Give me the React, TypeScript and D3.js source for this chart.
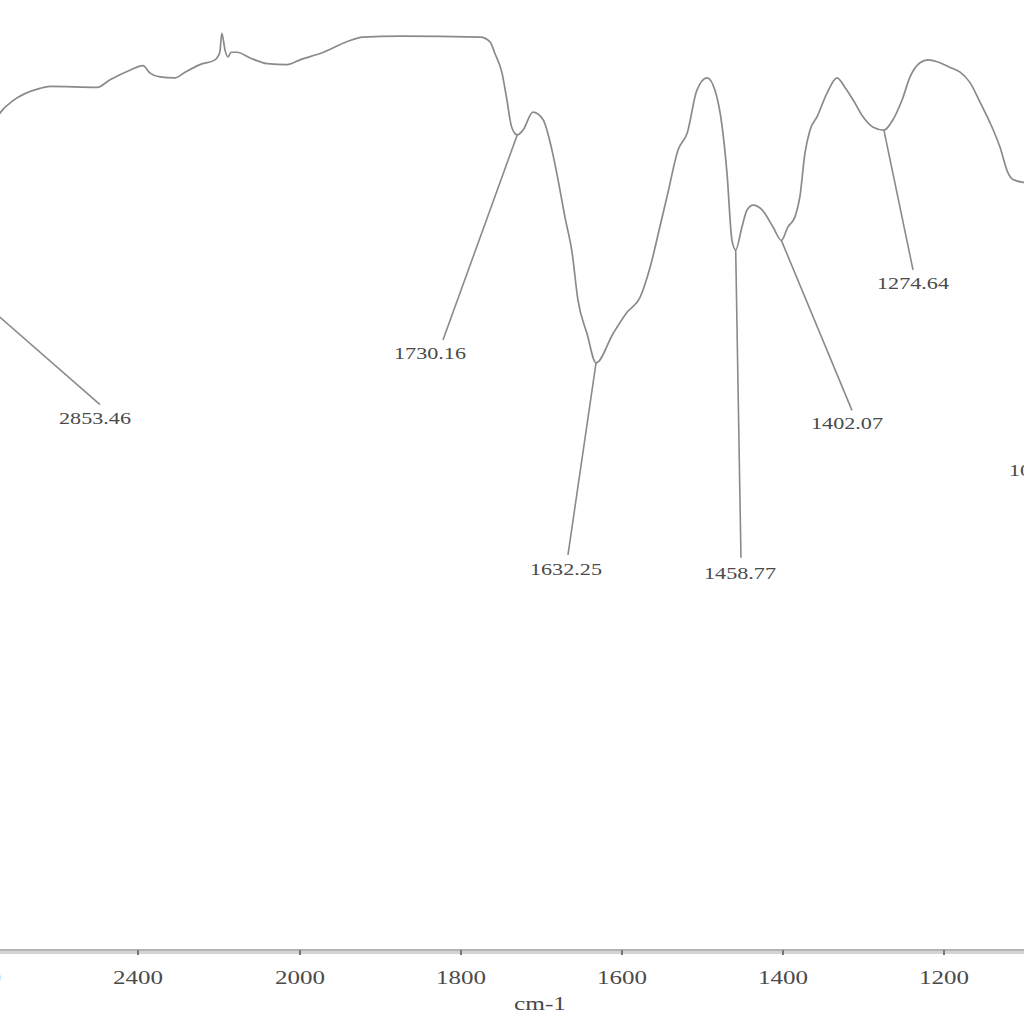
import React from "react";
import * as d3 from "d3";

// FTIR spectrum: wavenumber (cm-1) vs transmittance (%T, arbitrary units)
const wavenumbers = [
  2920, 2853.46, 2790, 2740.7, 2708.6, 2642, 2617, 2501, 2469, 2420, 2388, 2370, 2346, 2309,
  2284, 2247, 2210, 2198, 2193, 2185, 2178, 2170, 2156, 2123, 2081, 2032, 2000, 1971, 1942,
  1922, 1876, 1776, 1764, 1758, 1749, 1743, 1737, 1730.16, 1723, 1710.6, 1698, 1687, 1679.5,
  1671, 1662, 1654.7, 1643.5, 1632.25, 1611, 1594, 1577.6, 1565, 1553, 1543, 1530.4, 1519,
  1507, 1494.4, 1484.5, 1475.8, 1469.6, 1463.4, 1458.77, 1451, 1444.7, 1437, 1426, 1412.4,
  1402.07, 1394, 1385, 1379, 1372.7, 1366.5, 1357.8, 1345.3, 1332.9, 1323, 1313, 1300.6, 1288,
  1274.64, 1263.4, 1252, 1242.2, 1229.8, 1219.9, 1205, 1192.5, 1180, 1167.7, 1155, 1142.9,
  1130.4, 1120.5, 1114.3, 1100.6, 1090,
];
const transmittance = [
  73.7, 70.8, 83.2, 88.1, 89.4, 90.7, 90.9, 90.8, 91.6, 92.6, 93.1, 92.3, 91.9, 91.8,
  92.4, 93.2, 93.7, 94.5, 96.5, 94.7, 94.0, 94.5, 94.5, 93.9, 93.3, 93.2, 93.7, 94.5, 95.6,
  96.1, 96.2, 96.1, 95.6, 94.4, 92.3, 89.5, 86.6, 85.8, 86.3, 88.2, 87.4, 84.2, 81.1,
  77.2, 73.4, 68.4, 64.9, 61.8, 64.9, 67.1, 68.7, 71.9, 76.1, 79.7, 84.2, 86.0,
  90.5, 91.8, 90.5, 86.8, 81.8, 74.7, 73.7, 76.1, 77.9, 78.4, 77.9, 76.1,
  74.7, 76.1, 77.2, 79.3, 83.9, 86.3, 87.7, 90.2, 91.8, 90.8, 89.5, 87.7, 86.6,
  86.3, 87.4, 89.5, 91.9, 93.4, 93.7, 93.4, 92.9, 92.4, 91.3, 89.2, 87.1,
  84.5, 81.8, 81.1, 80.8, 80.7,
];

// peak annotations (all in data units)
const peakLabels = ["2853.46", "1730.16", "1632.25", "1458.77", "1402.07", "1274.64", "1070.49"];
const peakWn = [2853.46, 1730.16, 1632.25, 1458.77, 1402.07, 1274.64, 1070.49];
const peakT = [70.8, 85.8, 61.8, 73.7, 74.7, 86.3, 70.0];
const leaderEndWn = [2493.8, 1822.4, 1667.1, 1452.2, 1314.3, 1238.5, 1074.5];
const leaderEndT = [57.4, 64.2, 41.6, 41.3, 56.8, 71.6, 51.8];
const labelWn = [2506.2, 1838.5, 1669.6, 1453.4, 1320.5, 1238.5, 1074.5];
const labelT = [55.4, 62.2, 39.5, 39.1, 54.8, 69.6, 49.9];

const xTicks = [2800, 2400, 2000, 1800, 1600, 1400, 1200];
const xTitle = "cm-1";

export default function App() {
  const W = 1024;
  const H = 1024;
  const axisY = 950;
  // split scale: region above 2000 cm-1 compressed by half
  const x = d3.scaleLinear().domain([2800, 2000, 1100]).range([-24, 300, 1024.5]);
  const y = d3.scaleLinear().domain([0, 100]).range([950, 0]);

  const pts = wavenumbers.map((w, i) => [w, transmittance[i]] as [number, number]);
  const line = d3
    .line<[number, number]>()
    .x((d) => x(d[0]))
    .y((d) => y(d[1]))
    .curve(d3.curveMonotoneX);

  const stroke = "#8a8a8a";
  const textColor = "#4a4a4a";
  const font = "'Liberation Serif', 'DejaVu Serif', serif";

  return (
    <svg
      width={W}
      height={H}
      style={{ position: "absolute", left: 0, top: 0, background: "#fff", overflow: "hidden" }}
    >
      <rect x={0} y={0} width={W} height={H} fill="#fff" />
      <path d={line(pts) || ""} fill="none" stroke={stroke} strokeWidth={1.7} strokeLinejoin="round" />
      {peakLabels.map((lab, i) => (
        <g key={lab}>
          <line
            x1={x(peakWn[i])}
            y1={y(peakT[i])}
            x2={x(leaderEndWn[i])}
            y2={y(leaderEndT[i])}
            stroke={stroke}
            strokeWidth={1.6}
          />
          <text
            x={x(labelWn[i])}
            y={y(labelT[i])}
            textAnchor="middle"
            fontFamily={font}
            fontSize={17}
            fill={textColor}
            textLength={72}
            lengthAdjust="spacingAndGlyphs"
          >
            {lab}
          </text>
        </g>
      ))}
      {/* x axis */}
      <line x1={0} x2={W} y1={axisY + 2.5} y2={axisY + 2.5} stroke="#d4d4d4" strokeWidth={3} />
      <line x1={0} x2={W} y1={axisY} y2={axisY} stroke="#9a9a9a" strokeWidth={1.6} />
      {xTicks.map((t) => (
        <g key={t}>
          <line x1={x(t)} x2={x(t)} y1={axisY} y2={axisY + 5} stroke="#777" strokeWidth={2} />
          <text
            x={x(t)}
            y={984}
            textAnchor="middle"
            fontFamily={font}
            fontSize={19}
            fill={textColor}
            textLength={50}
            lengthAdjust="spacingAndGlyphs"
          >
            {t}
          </text>
        </g>
      ))}
      <text
        x={540}
        y={1010}
        textAnchor="middle"
        fontFamily={font}
        fontSize={19}
        fill={textColor}
        textLength={52}
        lengthAdjust="spacingAndGlyphs"
      >
        {xTitle}
      </text>
    </svg>
  );
}
